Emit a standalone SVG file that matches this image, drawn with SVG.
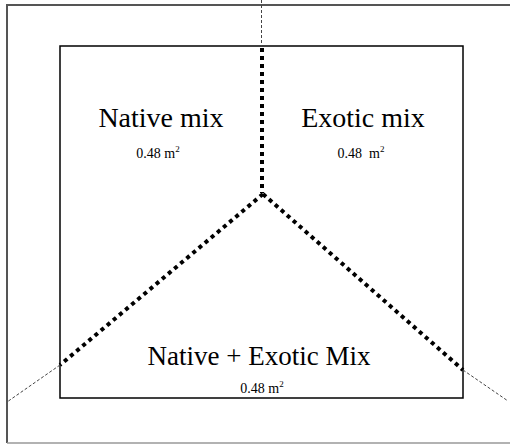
<svg xmlns="http://www.w3.org/2000/svg" width="510" height="444" viewBox="0 0 510 444">
<style>
.big{font-family:"Liberation Serif","Times New Roman",serif;font-size:28px;fill:#000;text-anchor:middle}
.small{font-family:"Liberation Serif","Times New Roman",serif;font-size:14px;fill:#000;text-anchor:middle}
.sup{font-size:9px}
.thick{stroke:#000;stroke-width:4;stroke-dasharray:4 4;fill:none}
.thin{stroke:#444;stroke-width:1;stroke-dasharray:3 2;fill:none}
</style>
<rect width="510" height="444" fill="#fff"/>
<g id="frame">
<path d="M7,443 V5 H510" fill="none" stroke="#555" stroke-width="2"/>
<path d="M7,443 H510" fill="none" stroke="#999" stroke-width="1.5"/>
</g>
<g id="plot">
<rect x="60" y="46" width="403" height="352" fill="none" stroke="#000" stroke-width="1.5"/>
</g>
<g id="connectors">
<line class="thin" x1="261.5" y1="0" x2="261.5" y2="46"/>
<line class="thin" x1="60" y1="365" x2="7" y2="402"/>
<line class="thin" x1="463" y1="370" x2="508" y2="401"/>
<polyline class="thick" points="262,48 262,193"/>
<polyline class="thick" points="263,194 60,365"/>
<polyline class="thick" points="263,194 463,370"/>
</g>
<g id="native">
<text class="big" x="161" y="127">Native mix</text>
<text class="small" x="158" y="158">0.48 m<tspan class="sup" dy="-6">2</tspan></text>
</g>
<g id="exotic">
<text class="big" x="363" y="127">Exotic mix</text>
<text class="small" x="361" y="158" xml:space="preserve">0.48  m<tspan class="sup" dy="-6">2</tspan></text>
</g>
<g id="mixed">
<text class="big" x="259" y="365" style="font-size:27px">Native + Exotic Mix</text>
<text class="small" x="262" y="393">0.48 m<tspan class="sup" dy="-6">2</tspan></text>
</g>
</svg>
